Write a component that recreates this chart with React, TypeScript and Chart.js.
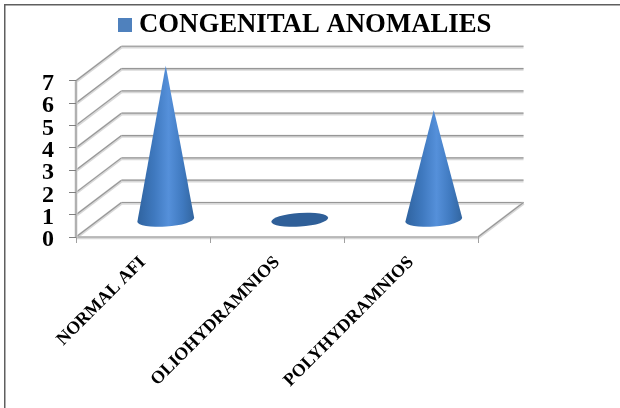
import React, { useEffect, useRef } from "react";
import { Chart, registerables } from "chart.js";

Chart.register(...registerables);

const categories = ["NORMAL AFI", "OLIOHYDRAMNIOS", "POLYHYDRAMNIOS"];
const seriesName = "CONGENITAL ANOMALIES";
const seriesValues = [7, 0, 5];
const yTicks = [0, 1, 2, 3, 4, 5, 6, 7];

const DEPTH_X = 45.5;
const DEPTH_Y = -34.5;
const APEX_INSET = 2;
const SERIF = "'Liberation Serif', 'Times New Roman', serif";

const makeSwatch = () => {
  const c = document.createElement("canvas");
  c.width = 14;
  c.height = 14;
  const g = c.getContext("2d")!;
  g.fillStyle = "#4f81bd";
  g.fillRect(0, 0, 14, 14);
  return c;
};

const chart3d = {
  id: "chart3d",
  beforeDraw(chart: any) {
    const { ctx, scales, chartArea } = chart;
    const { left, right, bottom } = chartArea;
    const y = scales.y;
    ctx.save();
    ctx.fillStyle = "#ffffff";
    ctx.fillRect(0, 0, chart.width, chart.height);
    ctx.strokeStyle = "#5f5f5f";
    ctx.lineWidth = 1.5;
    ctx.beginPath();
    ctx.moveTo(4.75, chart.height + 2);
    ctx.lineTo(4.75, 4.75);
    ctx.lineTo(chart.width + 2, 4.75);
    ctx.stroke();

    const seg = (x0: number, y0: number, x1: number, y1: number) => {
      ctx.strokeStyle = "#d8d8d8";
      ctx.lineWidth = 3;
      ctx.beginPath();
      ctx.moveTo(x0, y0 + 0.8);
      ctx.lineTo(x1, y1 + 0.8);
      ctx.stroke();
      ctx.strokeStyle = "#979797";
      ctx.lineWidth = 1.2;
      ctx.beginPath();
      ctx.moveTo(x0, y0);
      ctx.lineTo(x1, y1);
      ctx.stroke();
    };

    yTicks.forEach((t) => {
      const py = y.getPixelForValue(t);
      seg(left + DEPTH_X, py + DEPTH_Y, right + DEPTH_X, py + DEPTH_Y);
      seg(left, py, left + DEPTH_X, py + DEPTH_Y);
    });
    seg(left, bottom, right, bottom);
    seg(right, bottom, right + DEPTH_X, bottom + DEPTH_Y);
    seg(left, y.getPixelForValue(7), left, bottom);
    ctx.restore();
  },
  afterDatasetsDraw(chart: any) {
    const { ctx, scales } = chart;
    const meta = chart.getDatasetMeta(0);
    const y0 = scales.y.getPixelForValue(0) + DEPTH_Y / 2;
    seriesValues.forEach((v, i) => {
      const bar = meta.data[i];
      const cx = bar.x + DEPTH_X / 2;
      const hw = bar.width / 2;
      const ry = hw * 0.24;
      const tilt = -0.07;
      const apexY = scales.y.getPixelForValue(v) + DEPTH_Y / 2 + APEX_INSET;
      ctx.save();
      if (v === 0) {
        ctx.fillStyle = "#2f5f98";
        ctx.beginPath();
        ctx.ellipse(cx, y0, hw, ry, tilt, 0, Math.PI * 2);
        ctx.fill();
      } else {
        const g = ctx.createLinearGradient(cx - hw, 0, cx + hw, 0);
        g.addColorStop(0, "#2f639f");
        g.addColorStop(0.3, "#3f79bf");
        g.addColorStop(0.55, "#5590da");
        g.addColorStop(0.8, "#3f79bf");
        g.addColorStop(1, "#32659f");
        ctx.fillStyle = g;
        ctx.beginPath();
        ctx.moveTo(cx, apexY);
        ctx.lineTo(cx - hw * Math.cos(tilt), y0 - hw * Math.sin(tilt));
        ctx.ellipse(cx, y0, hw, ry, tilt, Math.PI, 0, true);
        ctx.closePath();
        ctx.fill();
      }
      ctx.restore();
    });
  },
};

export default function App() {
  const ref = useRef<HTMLCanvasElement | null>(null);
  useEffect(() => {
    if (!ref.current) return;
    const swatch = makeSwatch();
    const chart = new Chart(ref.current, {
      type: "bar",
      data: {
        labels: categories,
        datasets: [
          {
            label: seriesName,
            data: seriesValues,
            backgroundColor: "rgba(0,0,0,0)",
            borderWidth: 0,
            categoryPercentage: 1,
            barPercentage: 0.425,
          },
        ],
      },
      options: {
        responsive: false,
        animation: false,
        layout: { padding: { top: 5.5, left: 0, right: 4, bottom: 0 } },
        plugins: {
          tooltip: { enabled: false },
          legend: {
            display: true,
            position: "top",
            onClick: () => {},
            labels: {
              color: "#000000",
              usePointStyle: true,
              pointStyleWidth: 1,
              boxHeight: 14,
              padding: 6,
              generateLabels: () => [
                {
                  text: seriesName,
                  fillStyle: "#4f81bd",
                  strokeStyle: "#4f81bd",
                  lineWidth: 0,
                  hidden: false,
                  datasetIndex: 0,
                  pointStyle: swatch,
                },
              ],
              font: { family: SERIF, size: 26.75, weight: "bold" },
            },
          },
        },
        scales: {
          x: {
            type: "category",
            offset: true,
            grid: {
              offset: true,
              drawOnChartArea: false,
              drawTicks: true,
              tickLength: 6,
              color: "#a0a0a0",
            },
            border: { display: false },
            ticks: {
              color: "#000000",
              minRotation: 45,
              maxRotation: 45,
              autoSkip: false,
              padding: 9,
              font: { family: SERIF, size: 18, weight: "bold" },
            },
            afterFit: (s: any) => {
              s.height = 171;
            },
          },
          x2: {
            type: "category",
            position: "top",
            display: true,
            grid: { display: false },
            border: { display: false },
            ticks: { display: false },
            afterFit: (s: any) => {
              s.height = 32.5;
            },
          },
          y: {
            type: "linear",
            position: "left",
            min: 0,
            max: 7,
            grid: {
              drawOnChartArea: false,
              drawTicks: true,
              tickLength: 7,
              color: "#808080",
            },
            border: { display: false },
            ticks: {
              color: "#000000",
              stepSize: 1,
              autoSkip: false,
              padding: 15,
              labelOffset: 3,
              font: { family: SERIF, size: 24, weight: "bold" },
            },
            afterFit: (s: any) => {
              s.width = 76;
            },
          },
          y2: {
            type: "linear",
            position: "right",
            display: true,
            grid: { display: false },
            border: { display: false },
            ticks: { display: false },
            afterFit: (s: any) => {
              s.width = 138;
            },
          },
        },
      } as any,
      plugins: [chart3d],
    });
    return () => chart.destroy();
  }, []);
  return (
    <canvas
      ref={ref}
      width={620}
      height={408}
      style={{ position: "absolute", left: 0, top: 0, display: "block", filter: "blur(0.4px)" }}
    />
  );
}
